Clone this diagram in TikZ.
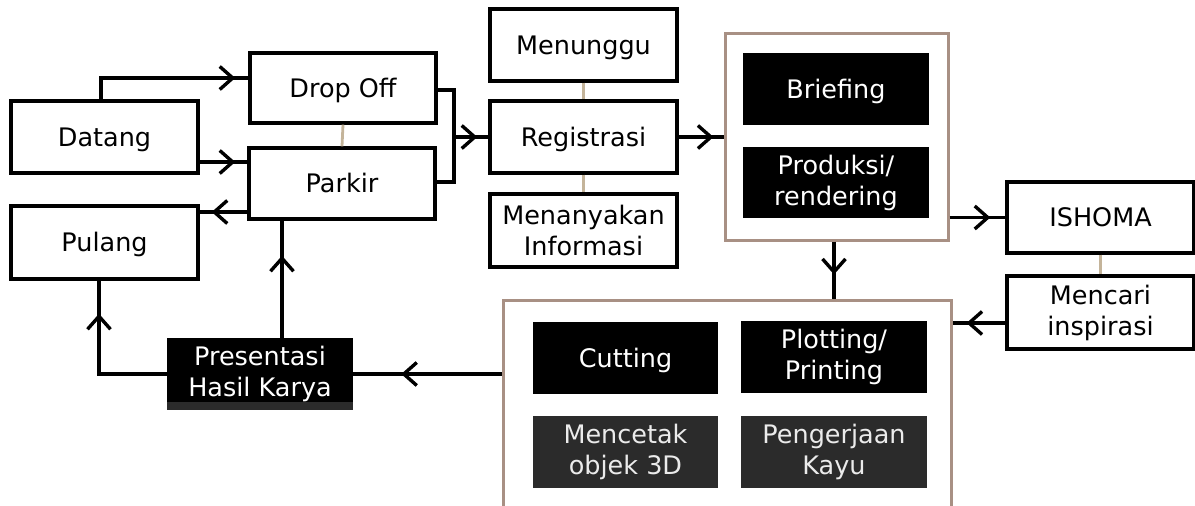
\documentclass[tikz,border=0pt]{standalone}
\usepackage{fontspec}
\setmainfont{DejaVu Sans}
\usetikzlibrary{arrows.meta,decorations.markings}
\definecolor{tanlink}{HTML}{C4B49A}
\definecolor{frameclr}{HTML}{A89084}
\definecolor{softblack}{HTML}{2B2B2B}

\begin{document}
\begin{tikzpicture}[x=1pt,y=-1pt,
  font=\fontsize{25.5}{31}\selectfont,
  box/.style={draw=black,line width=3.4pt,fill=white,inner sep=0pt,align=center},
  dark/.style={fill=black,text=white,inner sep=0pt,align=center},
  softdark/.style={fill=softblack,text=white!92!black,inner sep=0pt,align=center},
  one/.style={text height=18.6pt,text depth=0pt},
  frame/.style={draw=frameclr,line width=3pt,fill=white,inner sep=0pt},
  link/.style={draw=tanlink,line width=2.8pt},
  flow/.style={line width=3.4pt},
  tipat/.style={postaction={decorate,decoration={markings,
      mark=at position -#1 with {\arrow{Straight Barb[length=13pt,width=23pt,line width=3.4pt]}}}}}
]
\useasboundingbox (0,0) rectangle (1195,506);
\clip (0,0) rectangle (1195,506);

% grouping frames
\node[frame,minimum width=223pt,minimum height=207pt] (BigA) at (836.5,136.5) {};
\node[frame,minimum width=448pt,minimum height=210pt] (BigB) at (727,405) {};

% left column
\node[box,one,minimum width=187pt,minimum height=72pt] (Datang) at (104.5,137) {Datang};
\node[box,one,minimum width=187pt,minimum height=73pt] (Pulang) at (104.5,242.5) {Pulang};
\node[box,one,minimum width=186pt,minimum height=70pt] (DropOff) at (343,88) {Drop Off};
\node[box,one,minimum width=186pt,minimum height=71pt] (Parkir) at (342,183.5) {Parkir};

% registration column
\node[box,one,minimum width=187pt,minimum height=72pt] (Menunggu) at (583.5,45) {Menunggu};
\node[box,one,minimum width=187pt,minimum height=72pt] (Registrasi) at (583.5,137) {Registrasi};
\node[box,minimum width=187pt,minimum height=73pt] (Menanyakan) at (583.5,230.5) {Menanyakan\\Informasi};

% studio activities
\node[dark,one,minimum width=186pt,minimum height=72pt] (Briefing) at (836,89) {Briefing};
\node[dark,minimum width=186pt,minimum height=71pt] (Produksi) at (836,182.5) {Produksi/\\rendering};

% break
\node[box,one,minimum width=187pt,minimum height=71pt] (ISHOMA) at (1100.5,217.5) {ISHOMA};
\node[box,minimum width=187pt,minimum height=73pt] (Mencari) at (1100.5,312.5) {Mencari\\inspirasi};

% workshop activities
\node[dark,one,minimum width=185pt,minimum height=72pt] (Cutting) at (625.5,358) {Cutting};
\node[dark,minimum width=186pt,minimum height=72pt] (Plotting) at (834,357) {Plotting/\\Printing};
\node[softdark,minimum width=185pt,minimum height=72pt] (Mencetak) at (625.5,452) {Mencetak\\objek 3D};
\node[softdark,minimum width=186pt,minimum height=72pt] (Pengerjaan) at (834,452) {Pengerjaan\\Kayu};

% presentation
\node[dark,minimum width=186pt,minimum height=72pt,
  path picture={\fill[softblack] (path picture bounding box.south west)
    rectangle ([yshift=8pt]path picture bounding box.south east);}]
  (Presentasi) at (260,374) {Presentasi\\Hasil Karya};

% alternative-activity links
\draw[link] (DropOff.south) -- (Parkir.north);
\draw[link] (Menunggu.south) -- (Registrasi.north);
\draw[link] (Registrasi.south) -- (Menanyakan.north);
\draw[link] (ISHOMA.south) -- (Mencari.north);

% flow connectors
\coordinate (yA) at (0,78);
\coordinate (yB) at (0,162);
\coordinate (yC) at (0,212);
\coordinate (yD) at (0,90);
\coordinate (yE) at (0,182);
\coordinate (yF) at (0,323);
\coordinate (J) at (454,137);
\coordinate (xG) at (282,0);

\draw[flow,tipat=13pt] ([xshift=-3.5pt]Datang.north) |- (DropOff.west |- yA);
\draw[flow,tipat=12pt] (Datang.east |- yB) -- (Parkir.west |- yB);
\draw[flow,tipat=12pt] (Parkir.west |- yC) -- (Pulang.east |- yC);
\draw[flow] (DropOff.east |- yD) -| (J) |- (Parkir.east |- yE);
\draw[flow,tipat=11pt] (J) -- (Registrasi.west);
\draw[flow,tipat=10pt] (Registrasi.east) -- (Registrasi.east -| BigA.west);
\draw[flow,tipat=24pt] ([xshift=-2.5pt]BigA.south) -- ([xshift=-2.5pt]BigA.south |- BigB.north);
\draw[flow,tipat=15pt] (BigA.east |- ISHOMA.west) -- (ISHOMA.west);
\draw[flow,tipat=14pt] (Mencari.west |- yF) -- (BigB.east |- yF);
\draw[flow,tipat=48pt] (BigB.west |- Presentasi.east) -- (Presentasi.east);
\draw[flow,tipat=33pt] (Presentasi.west) -| ([xshift=-5.5pt]Pulang.south);
\draw[flow,tipat=35pt] (Presentasi.north -| xG) -- (Parkir.south -| xG);
\end{tikzpicture}
\end{document}
